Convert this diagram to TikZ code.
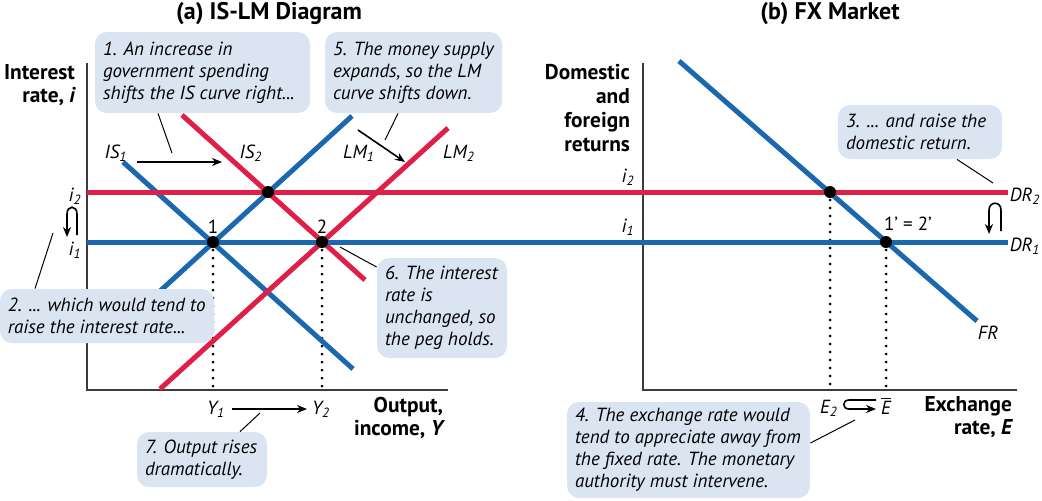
\documentclass[tikz,border=0pt]{standalone}
\usepackage{fontspec}
\setmainfont{PT Sans}
\usetikzlibrary{arrows.meta}
\definecolor{myblue}{RGB}{28,104,174}
\definecolor{myred}{RGB}{222,32,72}
\definecolor{callfill}{RGB}{219,229,242}
\definecolor{axisgray}{RGB}{60,60,60}
\begin{document}
\begin{tikzpicture}[x=0.5pt,y=-0.5pt,
  blueln/.style={myblue,line width=2.5pt},
  redln/.style={myred,line width=2.5pt},
  axisln/.style={axisgray,line width=0.75pt},
  dotln/.style={black,line width=1.5pt,line cap=round,dash pattern=on 0pt off 4pt},
  leader/.style={black,line width=0.5pt},
  shiftarrow/.style={black,line width=0.8pt,-{Stealth[length=5pt,width=4pt]}},
  callbox/.style={fill=callfill,rounded corners=6pt,inner sep=0pt},
  calltext/.style={anchor=west,align=left,inner sep=0pt,
    font=\itshape\fontsize{9.5}{11}\selectfont},
  axlbl/.style={font=\bfseries\fontsize{10.7}{11.5}\selectfont,align=right},
  titlelbl/.style={font=\bfseries\fontsize{12}{13}\selectfont},
  ital/.style={font=\itshape\fontsize{9.5}{11}\selectfont},
  plain/.style={font=\fontsize{9.5}{11}\selectfont},
  dotnode/.style={circle,fill=black,inner sep=0pt,minimum size=6pt}
]
\useasboundingbox (0,0) rectangle (1042,500);

% titles
\node[titlelbl] (ta) at (269,14) {(a) IS-LM Diagram};
\node[titlelbl] (tb) at (830,14) {(b) FX Market};

% axes
\coordinate (oa) at (87,390);
\coordinate (ya) at (87,63);
\coordinate (xa) at (448,390);
\coordinate (ob) at (643,390);
\coordinate (yb) at (643,63);
\coordinate (xb) at (1017,390);
\draw[axisln] (ya) -- (oa) -- (xa);
\draw[axisln] (yb) -- (ob) -- (xb);

% axis labels
\node[axlbl,anchor=east] (lyA) at (82,85) {Interest\\rate, {\itshape i}};
\node[axlbl,anchor=east] (lxA) at (450,418) {Output,\\income, {\itshape Y}};
\node[axlbl,anchor=east,font=\bfseries\fontsize{10.7}{12}\selectfont] (lyB) at (637,108) {Domestic\\and\\foreign\\returns};
\node[axlbl,anchor=east] (lxB) at (1019,417) {Exchange\\rate, {\itshape E}};

% horizontal interest-rate lines
\coordinate (i2s) at (87,192);
\coordinate (i2e) at (1008,192);
\coordinate (i1s) at (87,242);
\coordinate (i1e) at (1008,242);

% IS-LM curves
\coordinate (IS1a) at (123,162);
\coordinate (IS1b) at (353,369);
\coordinate (IS2a) at (182,115);
\coordinate (IS2b) at (365,280);
\coordinate (LM1a) at (352,116);
\coordinate (LM1b) at (148,302);
\coordinate (LM2a) at (448,128);
\coordinate (LM2b) at (160,389);
\coordinate (FRa) at (679,61);
\coordinate (FRb) at (977,321);

% dotted guides
\coordinate (p1) at (213,242);
\coordinate (p2) at (322,242);
\coordinate (p0) at (268,192);
\coordinate (q2) at (830,192);
\coordinate (q1) at (886,242);
\coordinate (p1x) at (213,390);
\coordinate (p2x) at (322,390);
\coordinate (q2x) at (830,390);
\coordinate (q1x) at (886,390);
\draw[dotln] (p1) -- (p1x);
\draw[dotln] (p2) -- (p2x);
\draw[dotln] (q2) -- (q2x);
\draw[dotln] (q1) -- (q1x);

\draw[blueln] (IS1a) -- (IS1b);
\draw[blueln] (LM1a) -- (LM1b);
\draw[redln] (LM2a) -- (LM2b);
\draw[redln] (IS2a) -- (IS2b);
\draw[blueln] (FRa) -- (FRb);
\draw[redln] (i2s) -- (i2e);
\draw[blueln] (i1s) -- (i1e);

% equilibrium dots
\node[dotnode] (d0) at (p0) {};
\node[dotnode] (d1) at (p1) {};
\node[dotnode] (d2) at (p2) {};
\node[dotnode] (d3) at (q2) {};
\node[dotnode] (d4) at (q1) {};

% curve labels
\node[ital] (nIS1) at (116,153) {IS\textsubscript{1}};
\node[ital] (nIS2) at (251,153) {IS\textsubscript{2}};
\node[ital] (nLM1) at (359,153) {LM\textsubscript{1}};
\node[ital] (nLM2) at (459,153) {LM\textsubscript{2}};
\node[ital] (nDR2) at (1025,196) {DR\textsubscript{2}};
\node[ital] (nDR1) at (1025,246) {DR\textsubscript{1}};
\node[ital] (nFR) at (988,333) {FR};
\node[plain] (n1) at (213,227) {1};
\node[plain] (n2) at (322,227) {2};
\node[plain] (n12) at (908,224) {1\textquoteright\ = 2\textquoteright};
\node[ital] (ai2) at (75,196) {i\textsubscript{2}};
\node[ital] (ai1) at (75,250) {i\textsubscript{1}};
\node[ital] (bi2) at (628,177) {i\textsubscript{2}};
\node[ital] (bi1) at (628,227) {i\textsubscript{1}};
\node[ital] (nY1) at (216,409) {Y\textsubscript{1}};
\node[ital] (nY2) at (321,409) {Y\textsubscript{2}};
\node[ital] (nE2) at (829,408) {E\textsubscript{2}};
\node[ital] (nEb) at (886,406) {$\overline{\textit{E}}$};

% shift arrows
\coordinate (sa1) at (137,162);
\coordinate (sa2) at (222,162);
\coordinate (sb1) at (358,130);
\coordinate (sb2) at (405,162);
\coordinate (sc1) at (232,409);
\coordinate (sc2) at (307,409);
\draw[shiftarrow] (sa1) -- (sa2);
\draw[shiftarrow] (sb1) -- (sb2);
\draw[shiftarrow] (sc1) -- (sc2);

% loop arrows
\coordinate (la1) at (77,235);
\coordinate (la2) at (77,214);
\coordinate (la3) at (67,214);
\coordinate (la4) at (67,237);
\draw[shiftarrow] (la1) -- (la2) .. controls (77,205) and (67,205) .. (la3) -- (la4);
\coordinate (lb1) at (1001,231);
\coordinate (lb2) at (1001,210);
\coordinate (lb3) at (989,210);
\coordinate (lb4) at (989,234);
\draw[shiftarrow] (lb1) -- (lb2) .. controls (1001,201) and (989,201) .. (lb3) -- (lb4);
\coordinate (le1) at (876,400);
\coordinate (le2) at (849,400);
\coordinate (le3) at (849,409);
\coordinate (le4) at (876,409);
\draw[shiftarrow] (le1) -- (le2) .. controls (842,400) and (842,409) .. (le3) -- (le4);

% callout boxes
\node[callbox,minimum width=107.5pt,minimum height=40.5pt] (b1) at (202.5,72.5) {};
\node[callbox,minimum width=88.5pt,minimum height=40.5pt] (b5) at (413.5,72.5) {};
\node[callbox,minimum width=107pt,minimum height=27pt] (b2) at (107,316) {};
\node[callbox,minimum width=65pt,minimum height=50pt] (b6) at (442,308) {};
\node[callbox,minimum width=65pt,minimum height=27.5pt] (b7) at (202,459.5) {};
\node[callbox,minimum width=82pt,minimum height=27pt] (b3) at (920,132) {};
\node[callbox,minimum width=121.5pt,minimum height=48pt] (b4) at (688.5,450) {};

% callout texts
\node[calltext] (c1) at ([xshift=4pt]b1.west) {1. An increase in\\government spending\\shifts the IS curve right...};
\node[calltext] (c5) at ([xshift=4pt]b5.west) {5. The money supply\\expands, so the LM\\curve shifts down.};
\node[calltext] (c2) at ([xshift=4pt]b2.west) {2. ... which would tend to\\raise the interest rate...};
\node[calltext] (c6) at ([xshift=4pt]b6.west) {6. The interest\\rate is\\unchanged, so\\the peg holds.};
\node[calltext] (c7) at ([xshift=4pt]b7.west) {7. Output rises\\dramatically.};
\node[calltext] (c3) at ([xshift=4pt]b3.west) {3. ... and raise the\\domestic return.};
\node[calltext] (c4) at ([xshift=4pt]b4.west) {4. The exchange rate would\\tend to appreciate away from\\the fixed rate. The monetary\\authority must intervene.};

% leader lines
\coordinate (k1) at (172,153);
\coordinate (k5) at (385,140);
\coordinate (k2) at (53,233);
\coordinate (k6) at (340,247);
\coordinate (k7) at (260,413);
\coordinate (k3) at (993,183);
\coordinate (k4) at (855,420);
\draw[leader] (b1.south -| 158,0) -- (k1);
\draw[leader] (b5.south -| 398,0) -- (k5);
\draw[leader] (b2.north -| 35,0) -- (k2);
\draw[leader] (b6.west |- 0,267) -- (k6);
\draw[leader] (b7.north -| 240,0) -- (k7);
\draw[leader] (b3.south -| 957,0) -- (k3);
\draw[leader] (b4.east |- 0,443) -- (k4);
\end{tikzpicture}
\end{document}
